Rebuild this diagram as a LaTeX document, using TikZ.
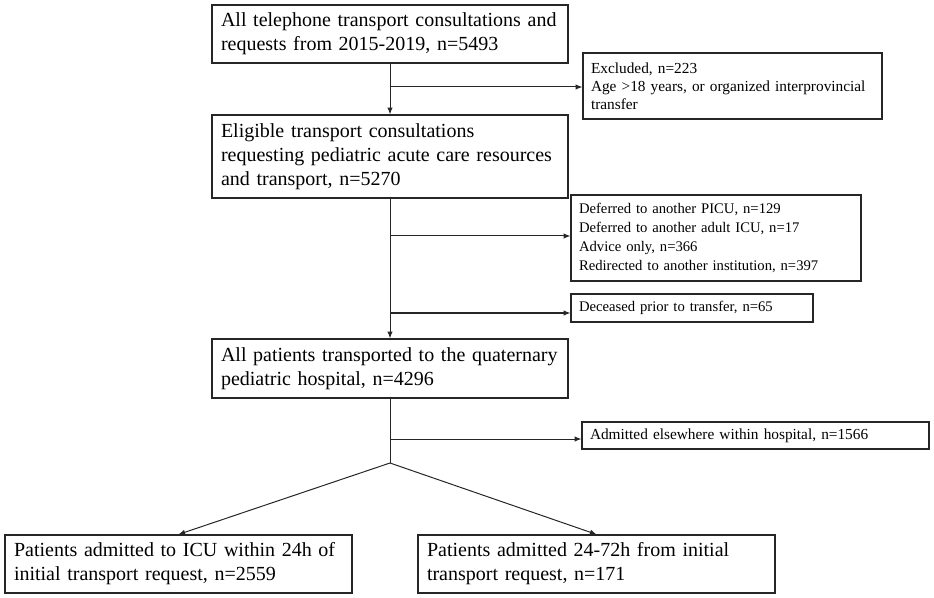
\documentclass[tikz,border=0pt]{standalone}
\usepackage{fontspec}
\setmainfont{Liberation Serif}
\usepackage{tikz}
\usetikzlibrary{arrows.meta}

\tikzset{
  bigbox/.style={draw=black!85, line width=0.9pt, align=left, inner xsep=6.75pt, inner ysep=0pt,
    font=\fontsize{15}{18}\selectfont},
  smallbox/.style={draw=black!85, line width=0.9pt, align=left, inner xsep=6pt, inner ysep=0pt,
    font=\fontsize{11}{14.25}\selectfont},
  flow/.style={draw=black!85, line width=0.75pt, -{Latex[length=5pt,width=4pt]}},
}

\begin{document}
\begin{tikzpicture}[x=0.75pt,y=0.75pt,yscale=-1,xscale=1]
\useasboundingbox (0,0) rectangle (934,598);

%Main column
% Text Node
\node (req) [bigbox, text width=253.5pt, minimum height=43.5pt] at (390,34)
  {All telephone transport consultations and\\requests from 2015-2019, n=5493};
% Text Node
\node (elig) [bigbox, text width=253.5pt, minimum height=62.25pt] at (390,156.5)
  {Eligible transport consultations\\requesting pediatric acute care resources\\and transport, n=5270};
% Text Node
\node (trans) [bigbox, text width=253.5pt, minimum height=44.25pt] at (390,368.5)
  {All patients transported to the quaternary\\pediatric hospital, n=4296};

%Side boxes
% Text Node
\node (excl) [smallbox, text width=212.25pt, minimum height=49.5pt,
  font=\fontsize{11.5}{13.5}\selectfont] at (732.5,86)
  {Excluded, n=223\\Age >18 years, or organized interprovincial\\transfer};
% Text Node
\node (defer) [smallbox, text width=205.5pt, minimum height=64.5pt] at (716,238)
  {Deferred to another PICU, n=129\\Deferred to another adult ICU, n=17\\Advice only, n=366\\Redirected to another institution, n=397};
% Text Node
\node (dec) [smallbox, text width=169.5pt, minimum height=21pt] at (692,308)
  {Deceased prior to transfer, n=65};
% Text Node
\node (adm) [smallbox, text width=248.25pt, minimum height=20.25pt,
  font=\fontsize{11.5}{13.5}\selectfont] at (755.5,435.5)
  {Admitted elsewhere within hospital, n=1566};

%Bottom row
% Text Node
\node (icu) [bigbox, text width=246.75pt, minimum height=43.5pt] at (178.5,564)
  {Patients admitted to ICU within 24h of\\initial transport request, n=2559};
% Text Node
\node (late) [bigbox, text width=254.25pt, minimum height=43.5pt] at (596.5,564)
  {Patients admitted 24-72h from initial\\transport request, n=171};

%Branch points on the trunk
\coordinate (b1) at (390,87);
\coordinate (b2) at (390,236);
\coordinate (b3) at (390,313);
\coordinate (b4) at (390,439);
\coordinate (split) at (390,463);

%Connectors
\draw [flow] (req) -- (elig);
\draw [flow] (b1) -- (b1 -| excl.west);
\draw [flow] (elig) -- (trans);
\draw [flow] (b2) -- (b2 -| defer.west);
\draw [flow] (b3) -- (b3 -| dec.west);
\draw [draw=black!85, line width=0.75pt] (trans) -- (split);
\draw [flow] (b4) -- (b4 -| adm.west);
\draw [flow] (split) -- (icu.north);
\draw [flow] (split) -- (late.north);

\end{tikzpicture}
\end{document}
